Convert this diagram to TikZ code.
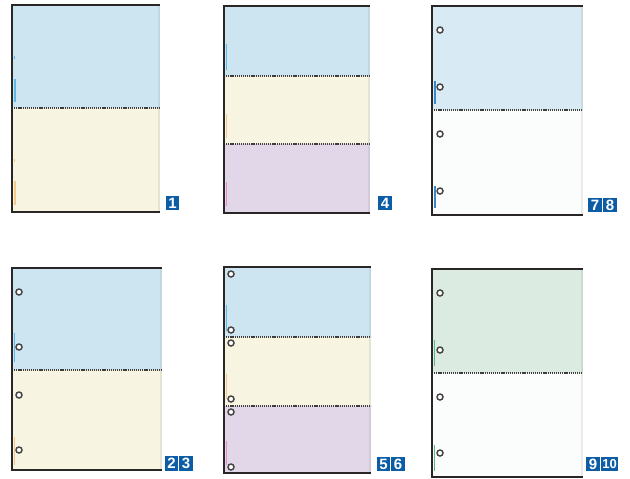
\documentclass[tikz,border=0pt]{standalone}
\usepackage{fontspec}
\setmainfont{Liberation Sans}
\definecolor{pblue}{HTML}{CDE5F1}
\definecolor{pblue2}{HTML}{D8EBF4}
\definecolor{pyellow}{HTML}{F7F5E1}
\definecolor{ppurple}{HTML}{E2D7E8}
\definecolor{pgreen}{HTML}{DCEBE2}
\definecolor{pwhite}{HTML}{FBFDFD}
\definecolor{labblue}{HTML}{0C5DA5}
\definecolor{edge}{HTML}{2A2626}
\definecolor{mkblue}{HTML}{5FB8E6}
\definecolor{mkblue2}{HTML}{3A86D0}
\definecolor{mkyellow}{HTML}{F6C98A}
\definecolor{mkpink}{HTML}{E58FC0}
\definecolor{mkgreen}{HTML}{5DB889}
\tikzset{
  perf/.style={draw=edge!90, line width=1.6pt, dash pattern=on 1.2pt off 0.9pt},
  border/.style={draw=edge, line width=1.1pt},
  hole/.style={draw=edge!85, line width=1.5pt, fill=white, circle, inner sep=0pt, minimum size=6pt},
  numbox/.style={fill=labblue, text=white, font=\bfseries\fontsize{15}{15}\selectfont, inner sep=0pt, minimum height=14.5pt, minimum width=13.5pt},
  edgemark/.style={line width=2pt},
  thinmark/.style={line width=1.2pt}
}
% \band{x1}{x2}{y1}{y2}{colour}
\newcommand{\band}[5]{\fill[#5] (#1,#3) rectangle (#2,#4);
  \fill[#5!85!gray] (#2-2,#3) rectangle (#2,#4);}
% \frameL{x1}{x2}{y1}{y2}
\newcommand{\frameL}[4]{\draw[border] (#2,#3) -- (#1,#3) -- (#1,#4) -- (#2,#4);}
\begin{document}
\begin{tikzpicture}[x=1pt,y=-1pt]
\useasboundingbox (0,0) rectangle (630,479);
% ---------- panel 1 ----------
\band{12}{160}{5}{108}{pblue}
\band{12}{160}{108}{212}{pyellow}
\draw[perf] (12,108) -- (160,108);
\frameL{12}{160}{5}{212}
\draw[mkblue,thinmark] (14.5,56) -- (14.5,59);
\draw[mkblue,edgemark] (15,79) -- (15,102);
\draw[mkyellow,thinmark] (14.5,159) -- (14.5,162);
\draw[mkyellow,edgemark] (15,181) -- (15,205);
\node[numbox] (l1) at (172.5,203) {1};
% ---------- panel 4 ----------
\band{224}{370}{6}{76}{pblue}
\band{224}{370}{76}{144}{pyellow}
\band{224}{370}{144}{213}{ppurple}
\draw[perf] (224,76) -- (370,76);
\draw[perf] (224,144) -- (370,144);
\frameL{224}{370}{6}{213}
\draw[mkblue,thinmark] (226.5,44) -- (226.5,70);
\draw[mkyellow,thinmark] (226.5,114) -- (226.5,138);
\draw[mkpink,thinmark] (226.5,182) -- (226.5,206);
\node[numbox] (l4) at (385,203) {4};
% ---------- panel 7|8 ----------
\band{432}{583}{6}{110}{pblue2}
\band{432}{583}{110}{215}{pwhite}
\draw[perf] (432,110) -- (583,110);
\frameL{432}{583}{6}{215}
\draw[mkblue2,edgemark] (434.5,81) -- (434.5,104);
\draw[mkblue2,edgemark] (434.5,186) -- (434.5,208);
\node[hole] (h1) at (440,30) {};
\node[hole] (h2) at (440,87) {};
\node[hole] (h3) at (440,134) {};
\node[hole] (h4) at (440,191) {};
\node[numbox] (l7) at (595,205) {7};
\node[numbox] (l8) at (610,205) {8};
% ---------- panel 2|3 ----------
\band{12}{162}{268}{370}{pblue}
\band{12}{162}{370}{470}{pyellow}
\draw[perf] (12,370) -- (162,370);
\frameL{12}{162}{268}{470}
\draw[mkblue,thinmark] (14.5,333) -- (14.5,362);
\draw[mkyellow,thinmark] (14.5,437) -- (14.5,465);
\node[hole] (h5) at (19,292) {};
\node[hole] (h6) at (19,347) {};
\node[hole] (h7) at (19,395) {};
\node[hole] (h8) at (19,450) {};
\node[numbox] (l2) at (171.5,463.5) {2};
\node[numbox] (l3) at (186,463.5) {3};
% ---------- panel 5|6 ----------
\band{224}{371}{267}{337}{pblue}
\band{224}{371}{337}{406}{pyellow}
\band{224}{371}{406}{473}{ppurple}
\draw[perf] (224,337) -- (371,337);
\draw[perf] (224,406) -- (371,406);
\frameL{224}{371}{267}{473}
\draw[mkblue,thinmark] (226.5,305) -- (226.5,331);
\draw[mkyellow,thinmark] (226.5,374) -- (226.5,399);
\draw[mkpink,thinmark] (226.5,441) -- (226.5,465);
\node[hole] (h9) at (231,274) {};
\node[hole] (h10) at (231,330) {};
\node[hole] (h11) at (231,343) {};
\node[hole] (h12) at (231,399) {};
\node[hole] (h13) at (231,412) {};
\node[hole] (h14) at (231,467) {};
\node[numbox] (l5) at (383.5,464) {5};
\node[numbox] (l6) at (398,464) {6};
% ---------- panel 9|10 ----------
\band{432}{583}{269}{373}{pgreen}
\band{432}{583}{373}{477}{pwhite}
\draw[perf] (432,373) -- (583,373);
\frameL{432}{583}{269}{477}
\draw[mkgreen,thinmark] (434.5,340) -- (434.5,366);
\draw[mkgreen,thinmark] (434.5,445) -- (434.5,471);
\node[hole] (h15) at (440,293) {};
\node[hole] (h16) at (440,350) {};
\node[hole] (h17) at (440,397) {};
\node[hole] (h18) at (440,453) {};
\node[numbox] (l9) at (593,464) {9};
\node[numbox, minimum width=17pt, font=\bfseries\fontsize{13}{13}\selectfont] (l10) at (609.5,464) {10};
\end{tikzpicture}
\end{document}
